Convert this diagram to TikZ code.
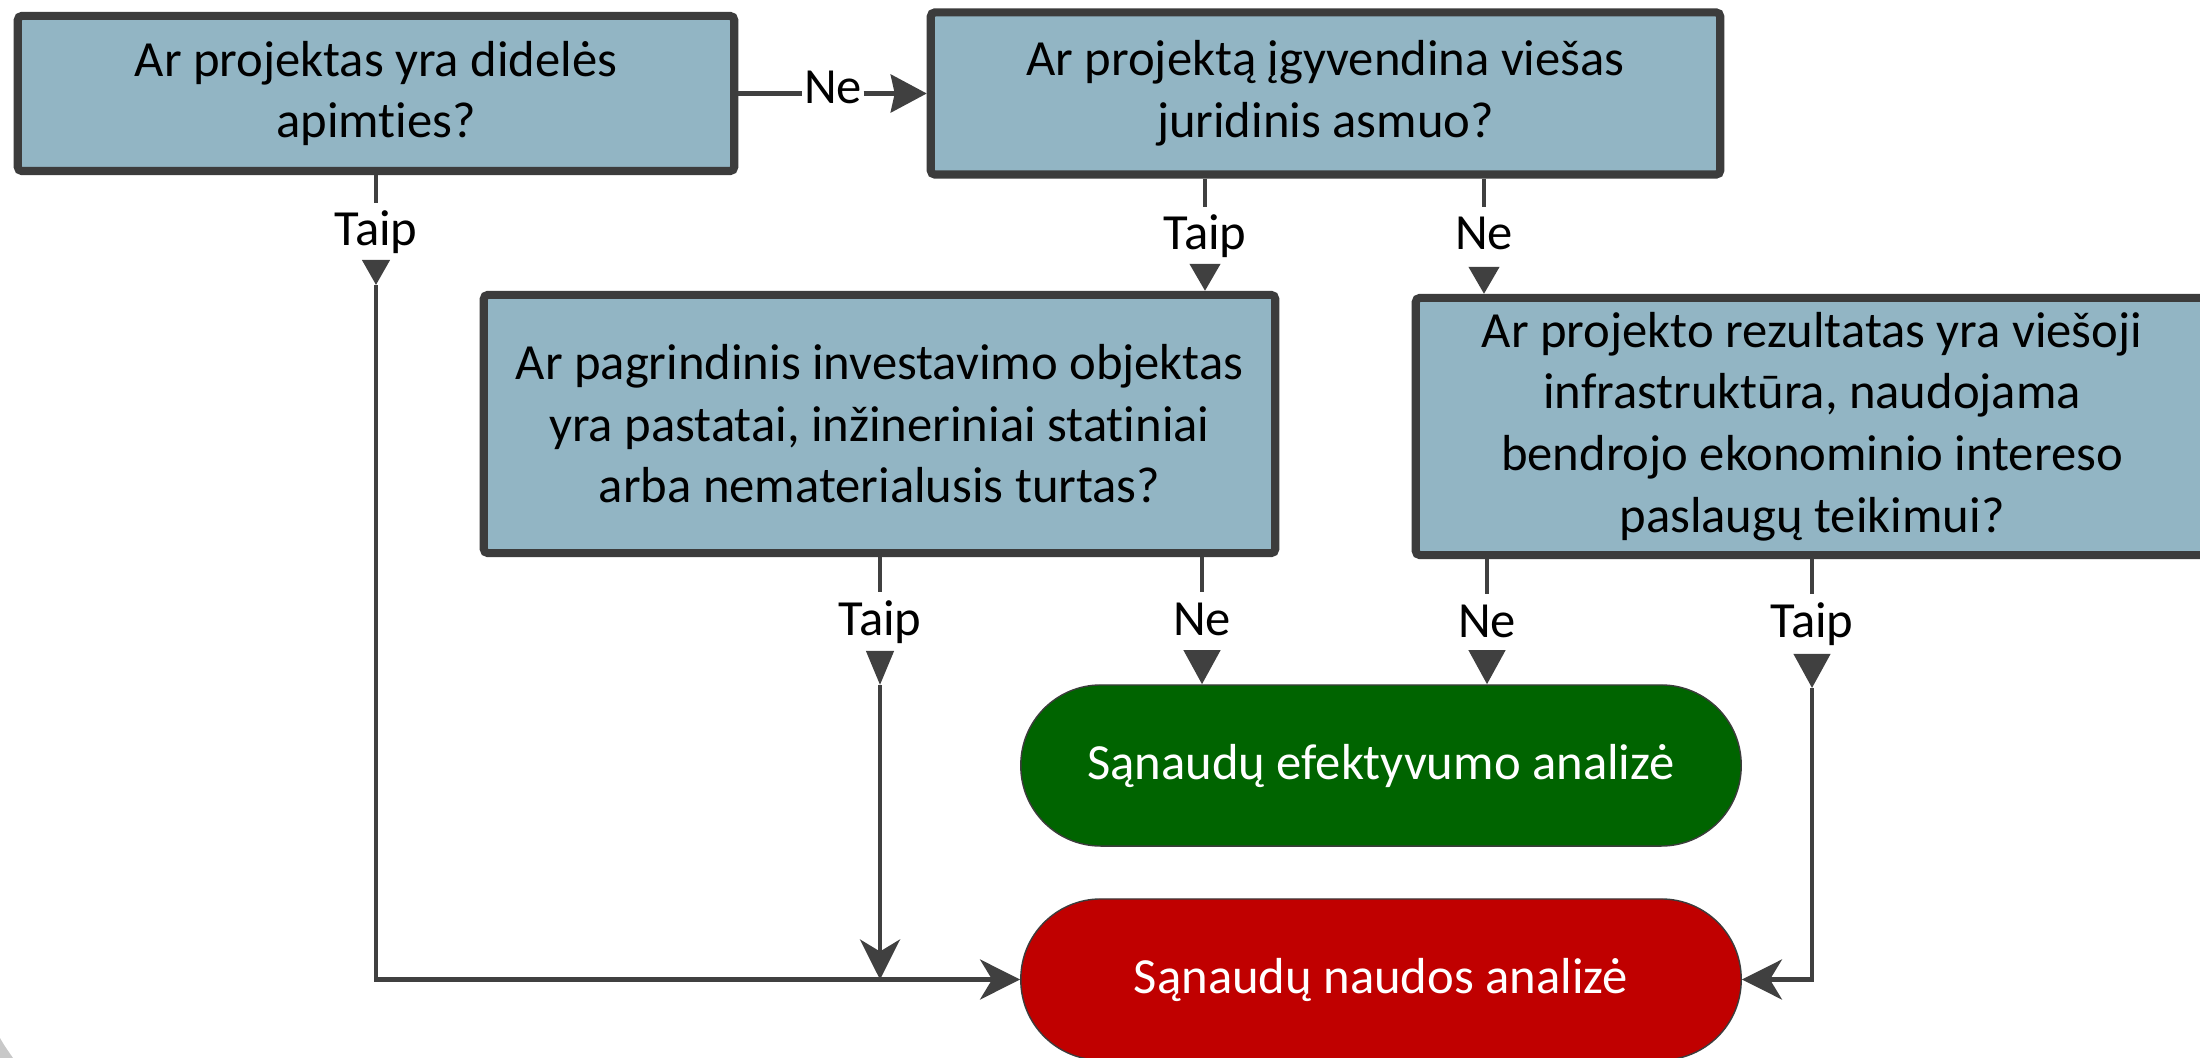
\documentclass[tikz,border=0pt]{standalone}
\usepackage{fontspec}
\setmainfont{Carlito}[RawFeature={-liga}]
\usetikzlibrary{arrows.meta}
\definecolor{boxfill}{HTML}{92B5C4}
\definecolor{boxline}{HTML}{3C3C3C}
\definecolor{conncol}{HTML}{404040}
\definecolor{goodgreen}{HTML}{006400}
\definecolor{badred}{HTML}{C00000}
\definecolor{cornergrey}{HTML}{C8C8C8}
\begin{document}
\begin{tikzpicture}[x=0.01cm,y=-0.01cm,
  every node/.style={font={\fontsize{14.4pt}{17.5pt}\selectfont}},
  question/.style={draw=boxline, fill=boxfill, line width=2.3pt, rounded corners=0.04cm, align=center, inner sep=0pt},
  outcome/.style={draw=boxline, line width=0.4pt, rounded corners=0.8cm, text=white, minimum width=7.2cm, minimum height=1.61cm, inner sep=0pt},
  lbl/.style={inner sep=0pt, text height=0.42cm, text depth=0.1cm, anchor=base},
  conn/.style={draw=conncol, line width=1.2pt},
  midtip/.style 2 args={-{Stealth[length=#1,width=#2,inset=0pt]}},
  endtip/.style={-{Stealth[length=0.4cm,width=0.4cm,inset=0.12cm]}},
]
\clip (0,0) rectangle (2200,1058);
\fill[white] (0,0) rectangle (2200,1058);
\fill[cornergrey] (0,1038) .. controls (4,1045) .. (13,1058) -- (0,1058) -- cycle;

% question boxes
\node[question, minimum width=7.16cm, minimum height=1.55cm] (qA) at (376,93.5) {Ar projektas yra didelės\\apimties?};
\node[question, minimum width=7.89cm, minimum height=1.62cm] (qB) at (1325.5,93.5) {Ar projektą įgyvendina viešas\\juridinis asmuo?};
\node[question, minimum width=7.91cm, minimum height=2.58cm] (qC) at (879.5,424) {Ar pagrindinis investavimo objektas\\yra pastatai, inžineriniai statiniai\\arba nematerialusis turtas?};
\node[question, minimum width=7.92cm, minimum height=2.57cm] (qD) at (1812,426.5) {Ar projekto rezultatas yra viešoji\\infrastruktūra, naudojama\\bendrojo ekonominio intereso\\paslaugų teikimui?};

% outcomes
\node[outcome, fill=goodgreen] (cea) at (1381,765.5) {Sąnaudų efektyvumo analizė};
\node[outcome, fill=badred] (cba) at (1381,979.5) {Sąnaudų naudos analizė};

% labels
\node[inner xsep=0.3pt, inner ysep=0pt, text height=1.6ex, text depth=0.45ex] (neA) at (833,93.5) {Ne};
\node[lbl] (tA) at (376,246) {Taip};
\node[lbl] (tB) at (1205,250) {Taip};
\node[lbl] (nB) at (1484,250) {Ne};
\node[lbl] (tC) at (880,635) {Taip};
\node[lbl] (nC) at (1202,635) {Ne};
\node[lbl] (nD) at (1487,637) {Ne};
\node[lbl] (tD) at (1812,637) {Taip};

\coordinate (tipA) at (376,285);
\coordinate (tipC) at (880,685);
\coordinate (tipD) at (1812,688);

% A -> B
\draw[conn] (qA.east) -- (neA.west);
\draw[conn, -{Stealth[length=0.36cm,width=0.38cm,inset=0.04cm]}] (neA.east) -- (qB.west);

% A Taip -> red
\draw[conn] (qA.south) -- (tA.north);
\draw[conn, shorten <=0.08cm, midtip={0.25cm}{0.27cm}] (tA.south) -- (tipA);
\draw[conn, endtip] (tipA) |- (cba.west);

% B Taip -> C, B Ne -> D
\draw[conn] (qB.south -| tB) -- (tB.north);
\draw[conn, shorten <=0.09cm, midtip={0.27cm}{0.3cm}] (tB.south) -- (tB.south |- qC.north);
\draw[conn] (qB.south -| nB) -- (nB.north);
\draw[conn, shorten <=0.09cm, midtip={0.27cm}{0.3cm}] (nB.south) -- (nB.south |- qD.north);

% C
\draw[conn] (qC.south -| tC) -- (tC.north);
\draw[conn, shorten <=0.09cm, midtip={0.34cm}{0.27cm}] (tC.south) -- (tipC);
\draw[conn, endtip] (tipC) -- (tipC |- cba.west);
\draw[conn] (qC.south -| nC) -- (nC.north);
\draw[conn, shorten <=0.09cm, midtip={0.34cm}{0.36cm}] (nC.south) -- (nC.south |- cea.north);

% D
\draw[conn] (qD.south -| nD) -- (nD.north);
\draw[conn, shorten <=0.1cm, midtip={0.34cm}{0.36cm}] (nD.south) -- (nD.south |- cea.north);
\draw[conn] (qD.south -| tD) -- (tD.north);
\draw[conn, shorten <=0.1cm, midtip={0.34cm}{0.36cm}] (tD.south) -- (tipD);
\draw[conn, endtip] (tipD) |- (cba.east);
\end{tikzpicture}
\end{document}
